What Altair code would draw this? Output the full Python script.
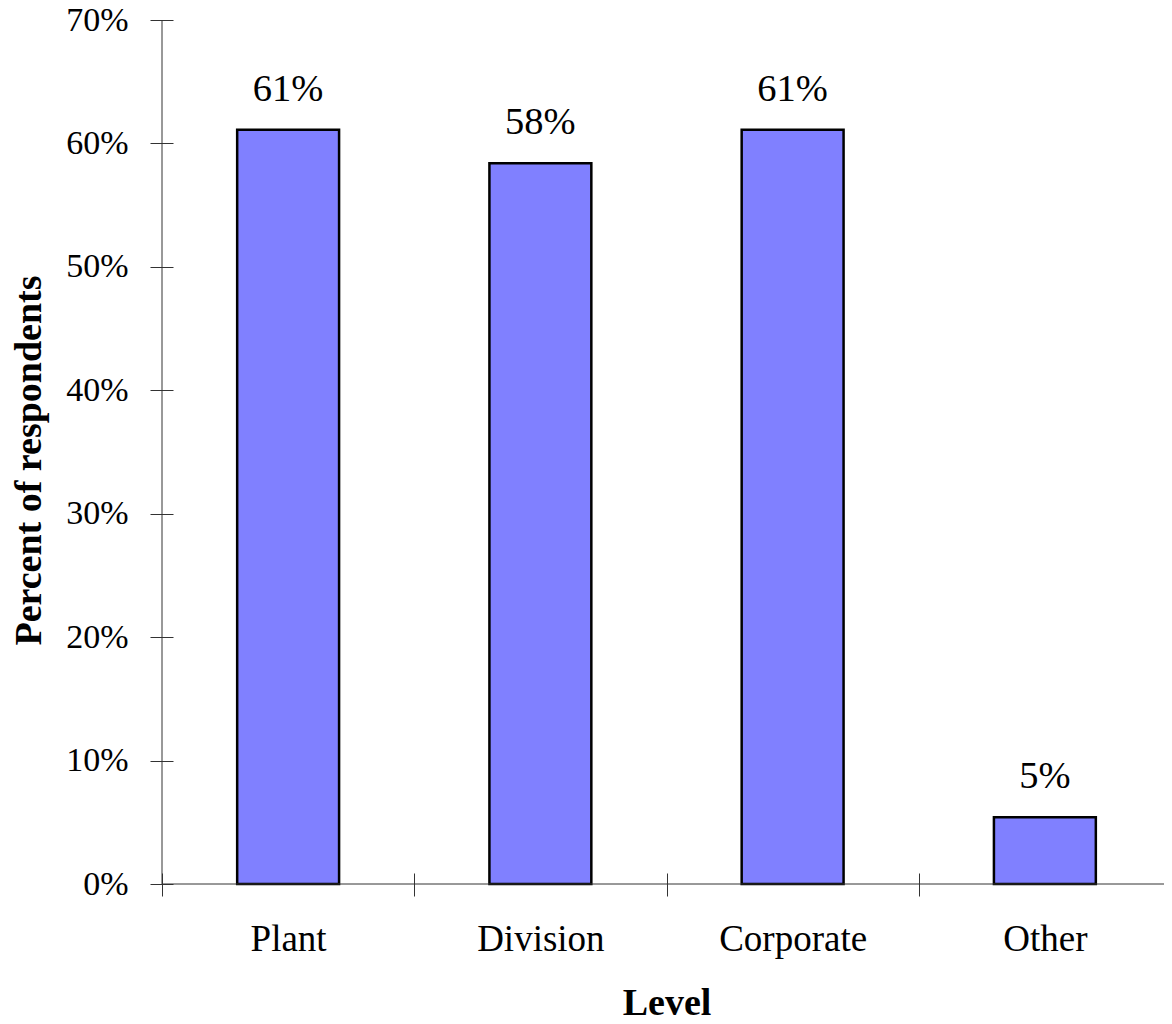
import altair as alt
import pandas as pd

categories = ["Plant", "Division", "Corporate", "Other"]
values = [0.611, 0.584, 0.611, 0.054]
value_labels = ["61%", "58%", "61%", "5%"]
y_ticks = [0.0, 0.1, 0.2, 0.3, 0.4, 0.5, 0.6, 0.7]

df = pd.DataFrame({"Level": categories, "Percent": values, "Label": value_labels})

W, H = 1009, 864
FONT = "Liberation Serif"
AXIS_COLOR = "#333333"

x_enc = alt.X(
    "Level:N",
    sort=categories,
    scale=alt.Scale(paddingInner=0, paddingOuter=0),
    axis=alt.Axis(
        title="Level",
        domain=False,
        tickBand="extent",
        tickSize=23,
        tickColor=AXIS_COLOR,
        tickWidth=1,
        offset=-11,
        labelAngle=0,
        labelFont=FONT,
        labelFontSize=37,
        labelColor="black",
        labelPadding=25,
        titleFont=FONT,
        titleFontSize=38,
        titleFontWeight="bold",
        titleColor="black",
        titlePadding=27,
        grid=False,
    ),
)

y_enc = alt.Y(
    "Percent:Q",
    scale=alt.Scale(domain=[0, 0.7], nice=False),
    axis=alt.Axis(
        title="Percent of respondents",
        values=y_ticks,
        format=".0%",
        domain=False,
        tickSize=23,
        tickColor=AXIS_COLOR,
        tickWidth=1,
        offset=-11,
        labelFont=FONT,
        labelFontSize=34,
        labelColor="black",
        labelPadding=22,
        titleFont=FONT,
        titleFontSize=38,
        titleFontWeight="bold",
        titleColor="black",
        titlePadding=17,
        titleY=440,
        grid=False,
    ),
)

base = alt.Chart(df)

bars = base.mark_bar(
    color="#8080FF", stroke="black", strokeWidth=2.5,
    width=alt.RelativeBandSize(0.404),
).encode(x=x_enc, y=y_enc)

text = base.mark_text(
    font=FONT, fontSize=38.5, color="black", baseline="alphabetic", dy=-29
).encode(x=alt.X("Level:N", sort=categories), y=alt.Y("Percent:Q"), text="Label:N")

ydomain = alt.Chart(pd.DataFrame({"a": [0]})).mark_rule(
    color=AXIS_COLOR, strokeWidth=1
).encode(x=alt.value(0), y=alt.value(0), y2=alt.value(H))

xdomain = alt.Chart(pd.DataFrame({"a": [0]})).mark_rule(
    color=AXIS_COLOR, strokeWidth=1
).encode(x=alt.value(0), x2=alt.value(W), y=alt.value(H))

chart = (
    alt.layer(bars, text, ydomain, xdomain)
    .properties(
        width=W,
        height=H,
        background="white",
        autosize=alt.AutoSizeParams(type="none"),
        padding={"left": 154, "top": 12, "right": -7, "bottom": 132},
    )
    .configure_view(strokeWidth=0, stroke="transparent")
)

chart.save("out.html", embed_options={"renderer": "svg", "actions": False})
